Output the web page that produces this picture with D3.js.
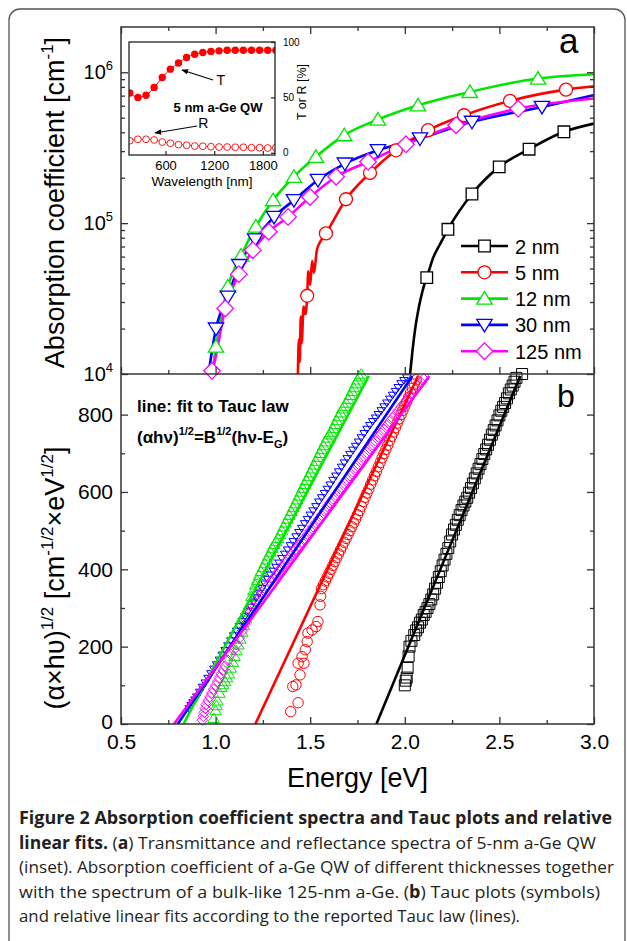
<!DOCTYPE html>
<html>
<head>
<meta charset="utf-8">
<script src="https://d3js.org/d3.v7.min.js"></script>
<style>
  body { margin: 0; background: #fff; }
  svg { display: block; font-family: 'Liberation Sans', Arial, sans-serif; }
</style>
</head>
<body>
<div id="chart"></div>
<script>
let width = 627
let height = 941

// ---- data ----
let series = ['2 nm', '5 nm', '12 nm', '30 nm', '125 nm']
let colors = ['#000000', '#ff0000', '#00e600', '#0000ff', '#ff00ff']
let shapes = ['square', 'circle', 'triangle', 'down', 'diamond']

// panel a: absorption coefficient [cm^-1] vs energy [eV], line points
let absLine2 = [[2.028, 1.0e4], [2.04, 1.4e4], [2.055, 2.0e4], [2.07, 2.6e4], [2.085, 3.2e4], [2.1, 3.8e4], [2.116, 4.35e4], [2.15, 5.9e4], [2.19, 7.4e4], [2.228, 9.1e4], [2.355, 1.56e5], [2.499, 2.36e5], [2.657, 3.09e5], [2.841, 4.03e5], [3.0, 4.57e5]]
let absLine5 = [[1.435, 1.0e4], [1.44, 1.7e4], [1.445, 1.2e4], [1.45, 2.4e4], [1.455, 1.6e4], [1.465, 2.8e4], [1.475, 2.5e4], [1.484, 3.3e4], [1.49, 4.8e4], [1.5, 3.9e4], [1.51, 5.6e4], [1.52, 4.7e4], [1.535, 6.6e4], [1.555, 7.6e4], [1.583, 8.55e4], [1.689, 1.44e5], [1.816, 2.15e5], [1.953, 3.04e5], [2.123, 4.13e5], [2.313, 5.19e5], [2.556, 6.46e5], [2.852, 7.67e5], [3.0, 8.07e5]]
let absLine12 = [[0.978, 1.0e4], [0.99, 1.2e4], [1.002, 1.52e4], [1.065, 3.8e4], [1.135, 6.1e4], [1.213, 9.5e4], [1.304, 1.42e5], [1.414, 2.03e5], [1.53, 2.75e5], [1.68, 3.83e5], [1.858, 4.86e5], [2.07, 6.04e5], [2.344, 7.41e5], [2.704, 9.08e5], [3.0, 9.7e5]]
let absLine30 = [[0.962, 1.0e4], [0.98, 1.4e4], [1.002, 2.0e4], [1.065, 3.25e4], [1.125, 5.27e4], [1.209, 7.8e4], [1.309, 1.1e5], [1.414, 1.42e5], [1.541, 1.93e5], [1.683, 2.48e5], [1.858, 3.04e5], [2.08, 3.64e5], [2.355, 4.69e5], [2.725, 5.89e5], [3.0, 7.05e5]]
let absLine125 = [[0.972, 1.0e4], [0.981, 1.05e4], [1.051, 2.72e4], [1.123, 4.59e4], [1.197, 6.62e4], [1.281, 8.77e4], [1.383, 1.1e5], [1.499, 1.49e5], [1.637, 2.03e5], [1.806, 2.55e5], [2.006, 3.33e5], [2.271, 4.46e5], [2.599, 5.74e5], [3.0, 6.7e5]]

// panel a: symbol positions
let absMark2 = [[2.116, 4.35e4], [2.228, 9.1e4], [2.355, 1.56e5], [2.499, 2.36e5], [2.657, 3.09e5], [2.841, 4.03e5]]
let absMark5 = [[1.484, 3.3e4], [1.583, 8.55e4], [1.689, 1.44e5], [1.816, 2.15e5], [1.953, 3.04e5], [2.123, 4.13e5], [2.313, 5.19e5], [2.556, 6.46e5], [2.852, 7.67e5]]
let absMark12 = [[1.002, 1.52e4], [1.065, 3.8e4], [1.135, 6.1e4], [1.213, 9.5e4], [1.304, 1.42e5], [1.414, 2.03e5], [1.53, 2.75e5], [1.68, 3.83e5], [1.858, 4.86e5], [2.07, 6.04e5], [2.344, 7.41e5], [2.704, 9.08e5]]
let absMark30 = [[1.002, 2.0e4], [1.065, 3.25e4], [1.125, 5.27e4], [1.209, 7.8e4], [1.309, 1.1e5], [1.414, 1.42e5], [1.541, 1.93e5], [1.683, 2.48e5], [1.858, 3.04e5], [2.08, 3.64e5], [2.355, 4.69e5], [2.725, 5.89e5]]
let absMark125 = [[0.981, 1.05e4], [1.051, 2.72e4], [1.123, 4.59e4], [1.197, 6.62e4], [1.281, 8.77e4], [1.383, 1.1e5], [1.499, 1.49e5], [1.637, 2.03e5], [1.806, 2.55e5], [2.006, 3.33e5], [2.271, 4.46e5], [2.599, 5.74e5]]

// panel b: Tauc plot symbols, (alpha*h*nu)^1/2 vs energy
let tauc2 = [[2.0, 100], [2.005, 112], [2.01, 120], [2.015, 145], [2.02, 175], [2.025, 200], [2.035, 215], [2.05, 230], [2.06, 242], [2.07, 250], [2.08, 262], [2.09, 270], [2.1, 282], [2.11, 290], [2.12, 300], [2.13, 310], [2.14, 322], [2.15, 335], [2.16, 350], [2.17, 365], [2.18, 380], [2.19, 395], [2.2, 410], [2.21, 425], [2.22, 440], [2.23, 455], [2.24, 472], [2.25, 490], [2.26, 503], [2.27, 515], [2.28, 528], [2.29, 540], [2.3, 553], [2.31, 565], [2.32, 575], [2.33, 585], [2.34, 598], [2.35, 610], [2.36, 622], [2.37, 635], [2.38, 648], [2.39, 660], [2.4, 672], [2.41, 685], [2.42, 698], [2.43, 710], [2.44, 722], [2.45, 735], [2.46, 748], [2.47, 760], [2.48, 772], [2.49, 785], [2.5, 798], [2.51, 810], [2.52, 820], [2.53, 830], [2.54, 842], [2.55, 855], [2.56, 865], [2.57, 875], [2.58, 885], [2.59, 895], [2.62, 905]]
let tauc5 = [[1.397, 32], [1.436, 55], [1.408, 97], [1.425, 101], [1.446, 127], [1.436, 157], [1.467, 157], [1.457, 174], [1.474, 192], [1.484, 213], [1.488, 235], [1.51, 243], [1.531, 252], [1.541, 265], [1.552, 308], [1.555, 330], [1.56, 350], [1.57, 360], [1.58, 370], [1.59, 380], [1.6, 390], [1.61, 400], [1.62, 410], [1.63, 420], [1.64, 430], [1.65, 440], [1.66, 450], [1.67, 460], [1.68, 470], [1.69, 480], [1.7, 490], [1.71, 500], [1.72, 510], [1.73, 520], [1.74, 530], [1.75, 541], [1.76, 552], [1.77, 563], [1.78, 575], [1.79, 586], [1.8, 597], [1.81, 608], [1.82, 620], [1.83, 631], [1.84, 642], [1.85, 653], [1.86, 665], [1.87, 676], [1.88, 688], [1.89, 699], [1.9, 710], [1.91, 721], [1.92, 733], [1.93, 744], [1.94, 755], [1.95, 766], [1.96, 778], [1.97, 789], [1.98, 800], [1.99, 811], [2.0, 822], [2.01, 833], [2.02, 845], [2.03, 856], [2.04, 868], [2.05, 879], [2.06, 890]]
let tauc12 = [[0.99, 15], [1.0, 35], [1.005, 48], [1.01, 60], [1.02, 80], [1.03, 95], [1.04, 102], [1.05, 110], [1.06, 120], [1.07, 130], [1.08, 145], [1.09, 160], [1.1, 175], [1.11, 190], [1.12, 205], [1.13, 220], [1.14, 238], [1.15, 255], [1.16, 272], [1.17, 290], [1.18, 310], [1.19, 330], [1.2, 345], [1.21, 360], [1.22, 372], [1.23, 385], [1.24, 395], [1.25, 405], [1.26, 415], [1.27, 425], [1.28, 435], [1.29, 445], [1.3, 455], [1.31, 465], [1.32, 472], [1.33, 480], [1.34, 490], [1.35, 500], [1.36, 510], [1.37, 520], [1.38, 530], [1.39, 540], [1.4, 550], [1.41, 560], [1.42, 570], [1.43, 580], [1.44, 590], [1.45, 600], [1.46, 610], [1.47, 620], [1.48, 630], [1.49, 640], [1.5, 650], [1.51, 660], [1.52, 670], [1.53, 680], [1.54, 690], [1.55, 700], [1.56, 710], [1.57, 720], [1.58, 730], [1.59, 740], [1.6, 748], [1.61, 755], [1.62, 765], [1.63, 775], [1.64, 785], [1.65, 795], [1.66, 805], [1.67, 815], [1.68, 822], [1.69, 830], [1.7, 840], [1.71, 850], [1.72, 860], [1.73, 870], [1.74, 880], [1.75, 890], [1.76, 898], [1.77, 905]]
let tauc30 = [[0.86, 40], [0.87, 48], [0.88, 55], [0.89, 62], [0.9, 70], [0.915, 82], [0.93, 95], [0.945, 106], [0.96, 118], [0.975, 130], [0.99, 142], [1.005, 153], [1.02, 165], [1.035, 178], [1.05, 190], [1.065, 202], [1.08, 215], [1.095, 228], [1.11, 240], [1.125, 252], [1.14, 265], [1.155, 278], [1.17, 290], [1.185, 302], [1.2, 315], [1.215, 326], [1.23, 338], [1.245, 350], [1.26, 362], [1.275, 374], [1.29, 385], [1.305, 395], [1.32, 405], [1.335, 416], [1.35, 428], [1.365, 439], [1.38, 450], [1.395, 461], [1.41, 472], [1.425, 484], [1.44, 495], [1.455, 506], [1.47, 518], [1.485, 529], [1.5, 540], [1.515, 551], [1.53, 562], [1.545, 574], [1.56, 585], [1.575, 596], [1.59, 607], [1.605, 618], [1.62, 630], [1.635, 641], [1.65, 652], [1.665, 664], [1.68, 675], [1.695, 686], [1.71, 697], [1.725, 708], [1.74, 718], [1.755, 729], [1.77, 740], [1.785, 751], [1.8, 762], [1.815, 772], [1.83, 782], [1.845, 791], [1.86, 800], [1.875, 810], [1.89, 820], [1.905, 830], [1.92, 840], [1.935, 850], [1.95, 860], [1.965, 870], [1.98, 880], [1.995, 888], [2.01, 895]]
let tauc125 = [[0.93, 10], [0.935, 20], [0.94, 30], [0.945, 40], [0.95, 50], [0.96, 60], [0.97, 70], [0.98, 80], [0.99, 90], [1.0, 100], [1.01, 110], [1.02, 120], [1.03, 130], [1.04, 140], [1.05, 150], [1.065, 165], [1.08, 180], [1.095, 192], [1.11, 205], [1.125, 222], [1.14, 240], [1.155, 258], [1.17, 275], [1.185, 290], [1.2, 305], [1.215, 318], [1.23, 330], [1.245, 340], [1.26, 350], [1.275, 359], [1.29, 368], [1.305, 376], [1.32, 385], [1.335, 395], [1.35, 405], [1.365, 415], [1.38, 425], [1.395, 435], [1.41, 445], [1.425, 453], [1.44, 462], [1.455, 471], [1.47, 480], [1.485, 490], [1.5, 500], [1.515, 510], [1.53, 520], [1.545, 530], [1.56, 540], [1.575, 551], [1.59, 562], [1.605, 572], [1.62, 582], [1.635, 592], [1.65, 602], [1.665, 612], [1.68, 622], [1.695, 632], [1.71, 642], [1.725, 652], [1.74, 662], [1.755, 672], [1.77, 682], [1.785, 692], [1.8, 702], [1.815, 712], [1.83, 722], [1.845, 732], [1.86, 742], [1.875, 752], [1.89, 762], [1.905, 772], [1.92, 782], [1.935, 791], [1.95, 800], [1.965, 810], [1.98, 820], [1.995, 829], [2.01, 838], [2.025, 847], [2.04, 856], [2.055, 865], [2.07, 874], [2.085, 883], [2.1, 892]]

// panel b: Tauc fit lines (start and end points)
let fit2 = [[1.85, 0], [2.61, 900]]
let fit5 = [[1.21, 0], [2.07, 900]]
let fit12 = [[0.83, 0], [1.81, 900]]
let fit30 = [[0.80, 0], [2.04, 900]]
let fit125 = [[0.78, 0], [2.13, 900]]

// inset: transmittance / reflectance of the 5 nm QW [%]
let wavelengths = [160, 260, 360, 460, 560, 660, 760, 860, 960, 1060, 1160, 1260, 1360, 1460, 1560, 1660, 1760, 1860, 1960]
let transT = [54, 50, 52, 59, 68, 75.5, 81, 86, 89, 90.5, 91.5, 92, 92.5, 92.5, 92.5, 92.5, 92.5, 92.5, 92.5]
let reflR = [10.9, 12.2, 12.2, 11.6, 9.7, 8.6, 7.3, 6.8, 6.1, 5.9, 5.5, 5.2, 5.2, 5.0, 5.0, 4.6, 4.6, 4.3, 4.6]

// ticks
let energyTicks = [0.5, 1.0, 1.5, 2.0, 2.5, 3.0]
let energyMinor = [0.75, 1.25, 1.75, 2.25, 2.75]
let absTicks = [1e4, 1e5, 1e6]
let absMinor = [2e4, 3e4, 4e4, 5e4, 6e4, 7e4, 8e4, 9e4, 2e5, 3e5, 4e5, 5e5, 6e5, 7e5, 8e5, 9e5]
let taucTicks = [0, 200, 400, 600, 800]
let taucMinor = [100, 300, 500, 700]
let wlTicks = [600, 1200, 1800]
let pctTicks = [0, 50, 100]

let absLines = [absLine2, absLine5, absLine12, absLine30, absLine125]
let absMarks = [absMark2, absMark5, absMark12, absMark30, absMark125]
let taucPts = [tauc2, tauc5, tauc12, tauc30, tauc125]
let taucFits = [fit2, fit5, fit12, fit30, fit125]

// ---- layout ----
let left = 121
let right = 594
let topA = 27
let mid = 374
let bottomB = 724

let svg = d3.select('#chart').append('svg')
  .attr('width', width)
  .attr('height', height)

let x = d3.scaleLinear().domain([0.5, 3.0]).range([left, right])
let yA = d3.scaleLog().domain([1e4, Math.pow(10, 6.3)]).range([mid, topA])
let yB = d3.scaleLinear().domain([0, 905]).range([bottomB, mid])
let xi = d3.scaleLinear().domain([150, 1950]).range([129, 275])
let yi = d3.scaleLinear().domain([-2, 100]).range([155, 42])

let defs = svg.append('defs')
defs.append('clipPath').attr('id', 'clipA').append('rect')
  .attr('x', left).attr('y', topA).attr('width', right - left).attr('height', mid - topA)
defs.append('clipPath').attr('id', 'clipB').append('rect')
  .attr('x', left).attr('y', mid).attr('width', right - left).attr('height', bottomB - mid)
defs.append('clipPath').attr('id', 'clipI').append('rect')
  .attr('x', 129).attr('y', 42).attr('width', 146).attr('height', 113)
defs.append('marker')
  .attr('id', 'arrow')
  .attr('viewBox', '0 0 10 10')
  .attr('refX', 9).attr('refY', 5)
  .attr('markerWidth', 7).attr('markerHeight', 7)
  .attr('markerUnits', 'userSpaceOnUse')
  .attr('orient', 'auto')
  .append('path').attr('d', 'M0,1L10,5L0,9Z').attr('fill', '#000')

// outer box of the figure
svg.append('rect')
  .attr('x', 9).attr('y', 9)
  .attr('width', 616).attr('height', 1000)
  .attr('rx', 11)
  .attr('fill', 'none')
  .attr('stroke', '#555')
  .attr('stroke-width', 1.3)

function markerPath(shape, s) {
  if (shape === 'square') return `M${-s},${-s}h${2 * s}v${2 * s}h${-2 * s}Z`
  if (shape === 'triangle') return `M0,${-s}L${s * 1.1},${s * 0.8}L${-s * 1.1},${s * 0.8}Z`
  if (shape === 'down') return `M0,${s}L${s * 1.1},${-s * 0.8}L${-s * 1.1},${-s * 0.8}Z`
  if (shape === 'diamond') return `M0,${-s}L${s},0L0,${s}L${-s},0Z`
  return d3.symbol(d3.symbolCircle, Math.PI * s * s)()
}

let sizeA = { square: 5.8, circle: 6.5, triangle: 7, down: 7, diamond: 8.3 }
let sizeB = { square: 5.5, circle: 5.2, triangle: 5.3, down: 3.8, diamond: 5.3 }

function styleAxis(g) {
  g.select('.domain').remove()
  g.selectAll('line').attr('stroke', '#333').attr('stroke-width', 1.3)
  g.selectAll('text').attr('fill', '#000').attr('font-size', 21)
}

// ---- panel a ----
let lineA = d3.line().x(d => x(d[0])).y(d => yA(d[1])).curve(d3.curveMonotoneX)
let gA = svg.append('g')

gA.append('g').attr('clip-path', 'url(#clipA)')
  .selectAll('path')
  .data(absLines)
  .enter()
  .append('path')
  .attr('d', lineA)
  .attr('fill', 'none')
  .attr('stroke', (d, i) => colors[i])
  .attr('stroke-width', 2.6)

absMarks.forEach((marks, i) => {
  gA.append('g')
    .selectAll('path')
    .data(marks)
    .enter()
    .append('path')
    .attr('transform', d => `translate(${x(d[0])},${yA(d[1])})`)
    .attr('d', markerPath(shapes[i], sizeA[shapes[i]]))
    .attr('fill', '#fff')
    .attr('stroke', colors[i])
    .attr('stroke-width', 1.3)
})

// panel a ticks
gA.append('g').attr('transform', `translate(0,${topA})`)
  .call(d3.axisTop(x).tickValues(energyTicks).tickSize(-7).tickFormat('')).call(styleAxis)
gA.append('g').attr('transform', `translate(0,${topA})`)
  .call(d3.axisTop(x).tickValues(energyMinor).tickSize(-4).tickFormat('')).call(styleAxis)
gA.append('g').attr('transform', `translate(0,${mid})`)
  .call(d3.axisBottom(x).tickValues(energyTicks).tickSize(-7).tickFormat('')).call(styleAxis)
gA.append('g').attr('transform', `translate(0,${mid})`)
  .call(d3.axisBottom(x).tickValues(energyMinor).tickSize(-4).tickFormat('')).call(styleAxis)
gA.append('g').attr('transform', `translate(${left},0)`)
  .call(d3.axisLeft(yA).tickValues(absTicks).tickSize(-7).tickFormat('')).call(styleAxis)
gA.append('g').attr('transform', `translate(${left},0)`)
  .call(d3.axisLeft(yA).tickValues(absMinor).tickSize(-4).tickFormat('')).call(styleAxis)
gA.append('g').attr('transform', `translate(${right},0)`)
  .call(d3.axisRight(yA).tickValues(absTicks).tickSize(-7).tickFormat('')).call(styleAxis)
gA.append('g').attr('transform', `translate(${right},0)`)
  .call(d3.axisRight(yA).tickValues(absMinor).tickSize(-4).tickFormat('')).call(styleAxis)

// 10^n labels
let powLabels = gA.selectAll('.pow')
  .data(absTicks)
  .enter()
  .append('text')
  .attr('class', 'pow')
  .attr('x', left - 8)
  .attr('y', d => yA(d) + 7)
  .attr('text-anchor', 'end')
  .attr('font-size', 20)
powLabels.append('tspan').text('10')
powLabels.append('tspan').attr('dy', -9).attr('font-size', 13).text(d => Math.round(Math.log10(d)))

// ---- panel b ----
let lineB = d3.line().x(d => x(d[0])).y(d => yB(d[1]))
let gB = svg.append('g')

taucPts.forEach((pts, i) => {
  gB.append('g')
    .selectAll('path')
    .data(pts)
    .enter()
    .append('path')
    .attr('transform', d => `translate(${x(d[0])},${yB(d[1])})`)
    .attr('d', markerPath(shapes[i], sizeB[shapes[i]]))
    .attr('fill', 'none')
    .attr('stroke', colors[i])
    .attr('stroke-width', 1)
})

gB.append('g').attr('clip-path', 'url(#clipB)')
  .selectAll('path')
  .data(taucFits)
  .enter()
  .append('path')
  .attr('d', lineB)
  .attr('fill', 'none')
  .attr('stroke', (d, i) => colors[i])
  .attr('stroke-width', 2.6)

gB.append('g').attr('transform', `translate(0,${bottomB})`)
  .call(d3.axisBottom(x).tickValues(energyTicks).tickSize(-7).tickPadding(10).tickFormat(d3.format('.1f'))).call(styleAxis)
gB.append('g').attr('transform', `translate(0,${bottomB})`)
  .call(d3.axisBottom(x).tickValues(energyMinor).tickSize(-4).tickFormat('')).call(styleAxis)
gB.append('g').attr('transform', `translate(${left},0)`)
  .call(d3.axisLeft(yB).tickValues(taucTicks).tickSize(-7).tickPadding(8)).call(styleAxis)
gB.append('g').attr('transform', `translate(${left},0)`)
  .call(d3.axisLeft(yB).tickValues(taucMinor).tickSize(-4).tickFormat('')).call(styleAxis)
gB.append('g').attr('transform', `translate(${right},0)`)
  .call(d3.axisRight(yB).tickValues(taucTicks).tickSize(-7).tickFormat('')).call(styleAxis)
gB.append('g').attr('transform', `translate(${right},0)`)
  .call(d3.axisRight(yB).tickValues(taucMinor).tickSize(-4).tickFormat('')).call(styleAxis)
// the zero label sits a bit higher so it clears the 0.5 below it
gB.selectAll('.tick text').filter(d => d === 0).attr('dy', '0.2em')

// panel frames
svg.append('rect')
  .attr('x', left).attr('y', topA)
  .attr('width', right - left).attr('height', bottomB - topA)
  .attr('fill', 'none').attr('stroke', '#333').attr('stroke-width', 1.5)
svg.append('line')
  .attr('x1', left).attr('x2', right).attr('y1', mid).attr('y2', mid)
  .attr('stroke', '#333').attr('stroke-width', 1.5)

// ---- inset ----
let gI = svg.append('g')
gI.append('rect')
  .attr('x', 129).attr('y', 42).attr('width', 146).attr('height', 113)
  .attr('fill', '#fff')

let tData = wavelengths.map((w, i) => [w, transT[i]])
let rData = wavelengths.map((w, i) => [w, reflR[i]])
let lineI = d3.line().x(d => xi(d[0])).y(d => yi(d[1])).curve(d3.curveMonotoneX)
let gIc = gI.append('g').attr('clip-path', 'url(#clipI)')

gIc.append('path').datum(tData).attr('d', lineI)
  .attr('fill', 'none').attr('stroke', '#ff0000').attr('stroke-width', 1)
gIc.append('path').datum(rData).attr('d', lineI)
  .attr('fill', 'none').attr('stroke', '#ff0000').attr('stroke-width', 0.8)
gIc.selectAll('.tdot').data(tData).enter().append('circle')
  .attr('class', 'tdot')
  .attr('cx', d => xi(d[0])).attr('cy', d => yi(d[1])).attr('r', 3.7)
  .attr('fill', '#ff0000')
gIc.selectAll('.rdot').data(rData).enter().append('circle')
  .attr('class', 'rdot')
  .attr('cx', d => xi(d[0])).attr('cy', d => yi(d[1])).attr('r', 3.4)
  .attr('fill', '#fff').attr('stroke', '#ff0000').attr('stroke-width', 0.9)

gI.append('g').attr('transform', 'translate(0,155)')
  .call(d3.axisBottom(xi).tickValues(wlTicks).tickSize(-4).tickPadding(6).tickFormat(d3.format('d')))
  .call(styleAxis)
  .selectAll('text').attr('font-size', 13)
gI.append('g').attr('transform', 'translate(275,0)')
  .call(d3.axisRight(yi).tickValues(pctTicks).tickSize(-4).tickPadding(8))
  .call(styleAxis)
  .selectAll('text').attr('font-size', 10)
gI.append('rect')
  .attr('x', 129).attr('y', 42).attr('width', 146).attr('height', 113)
  .attr('fill', 'none').attr('stroke', '#222').attr('stroke-width', 1.3)

gI.append('text')
  .attr('x', xi(1050)).attr('y', 186)
  .attr('text-anchor', 'middle').attr('font-size', 13.5)
  .text('Wavelength [nm]')
gI.append('text')
  .attr('transform', 'translate(306,92) rotate(-90)')
  .attr('text-anchor', 'middle').attr('font-size', 12.5)
  .text('T or R [%]')
gI.append('text')
  .attr('x', xi(1247)).attr('y', yi(36.8))
  .attr('text-anchor', 'middle').attr('font-size', 13).attr('font-weight', 'bold')
  .text('5 nm a-Ge QW')

// T and R arrows
gI.append('line')
  .attr('x1', xi(1186)).attr('y1', yi(65.7)).attr('x2', xi(803)).attr('y2', yi(74.7))
  .attr('stroke', '#000').attr('stroke-width', 1.1).attr('marker-end', 'url(#arrow)')
gI.append('text').attr('x', xi(1230)).attr('y', yi(61)).attr('font-size', 14).text('T')
gI.append('line')
  .attr('x1', xi(990)).attr('y1', yi(24.2)).attr('x2', xi(471)).attr('y2', yi(17.9))
  .attr('stroke', '#000').attr('stroke-width', 1.1).attr('marker-end', 'url(#arrow)')
gI.append('text').attr('x', xi(1005)).attr('y', yi(22.3)).attr('font-size', 14).text('R')

// ---- legend ----
let legend = svg.append('g')
  .selectAll('g')
  .data(series)
  .enter()
  .append('g')
  .attr('transform', (d, i) => `translate(461,${246 + i * 26.3})`)
legend.append('line')
  .attr('x1', 0).attr('x2', 47)
  .attr('stroke', (d, i) => colors[i]).attr('stroke-width', 2.6)
legend.append('path')
  .attr('transform', 'translate(23.5,0)')
  .attr('d', (d, i) => markerPath(shapes[i], sizeA[shapes[i]]))
  .attr('fill', '#fff')
  .attr('stroke', (d, i) => colors[i])
  .attr('stroke-width', 1.3)
legend.append('text')
  .attr('x', 54).attr('y', 7.5)
  .attr('font-size', 20)
  .text(d => d)

// ---- panel letters and notes ----
svg.append('text').attr('x', 559).attr('y', 53).attr('font-size', 35).text('a')
svg.append('text').attr('x', 557).attr('y', 407).attr('font-size', 32).text('b')

svg.append('text')
  .attr('x', 137).attr('y', 412)
  .attr('font-size', 17).attr('font-weight', 'bold')
  .text('line: fit to Tauc law')
let tauc = svg.append('text')
  .attr('x', 137).attr('y', 443)
  .attr('font-size', 17).attr('font-weight', 'bold')
tauc.append('tspan').text('(αhν)')
tauc.append('tspan').attr('dy', -8).attr('font-size', 11).text('1/2')
tauc.append('tspan').attr('dy', 8).text('=B')
tauc.append('tspan').attr('dy', -8).attr('font-size', 11).text('1/2')
tauc.append('tspan').attr('dy', 8).text('(hν-E')
tauc.append('tspan').attr('dy', 5).attr('font-size', 11).text('G')
tauc.append('tspan').attr('dy', -5).text(')')

// ---- axis titles ----
let titleA = svg.append('text')
  .attr('transform', `translate(64,${(topA + mid) / 2 + 2}) rotate(-90)`)
  .attr('text-anchor', 'middle')
  .attr('font-size', 27)
titleA.append('tspan').text('Absorption coefficient [cm')
titleA.append('tspan').attr('dy', -11).attr('font-size', 17).text('-1')
titleA.append('tspan').attr('dy', 11).text(']')

let titleB = svg.append('text')
  .attr('transform', 'translate(64,578) rotate(-90)')
  .attr('text-anchor', 'middle')
  .attr('font-size', 27)
titleB.append('tspan').text('(α×hυ)')
titleB.append('tspan').attr('dy', -11).attr('font-size', 17).text('1/2')
titleB.append('tspan').attr('dy', 11).text(' [cm')
titleB.append('tspan').attr('dy', -11).attr('font-size', 17).text('-1/2')
titleB.append('tspan').attr('dy', 11).text('×eV')
titleB.append('tspan').attr('dy', -11).attr('font-size', 17).text('1/2')
titleB.append('tspan').attr('dy', 11).text(']')

svg.append('text')
  .attr('x', (left + right) / 2).attr('y', 787)
  .attr('text-anchor', 'middle')
  .attr('font-size', 27)
  .text('Energy [eV]')

// ---- caption ----
let captionLines = [
  [['Figure 2 Absorption coefficient spectra and Tauc plots and relative', true]],
  [['linear fits.', true], [' (', false], ['a', true], [') Transmittance and reflectance spectra of 5-nm a-Ge QW', false]],
  [['(inset). Absorption coefficient of a-Ge QW of different thicknesses together', false]],
  [['with the spectrum of a bulk-like 125-nm a-Ge. (', false], ['b', true], [') Tauc plots (symbols)', false]],
  [['and relative linear fits according to the reported Tauc law (lines).', false]]
]
let captionWidths = [593, 577, 595, 581, 501]

let caption = svg.append('g')
  .selectAll('text')
  .data(captionLines)
  .enter()
  .append('text')
  .attr('x', 19)
  .attr('y', (d, i) => 824 + i * 24.5)
  .attr('font-family', "'Open Sans', sans-serif")
  .attr('font-size', 17)
  .attr('fill', '#231f20')
  .attr('textLength', (d, i) => captionWidths[i])
  .attr('lengthAdjust', 'spacingAndGlyphs')
caption.selectAll('tspan')
  .data(d => d)
  .enter()
  .append('tspan')
  .attr('font-weight', d => d[1] ? 'bold' : 'normal')
  .text(d => d[0])
</script>
</body>
</html>
